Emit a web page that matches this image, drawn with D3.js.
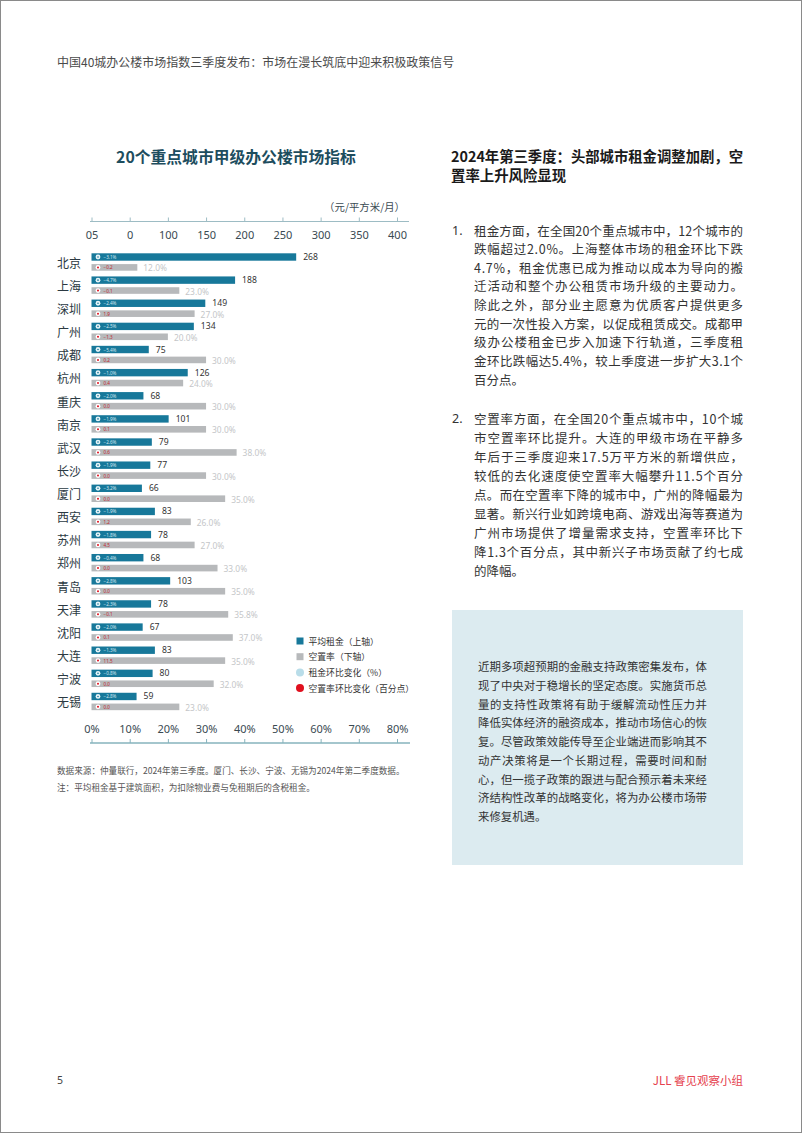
<!DOCTYPE html>
<html><head><meta charset="utf-8">
<script src="https://cdn.jsdelivr.net/npm/d3@7"></script>
<style>
html,body{margin:0;padding:0;background:#fff;}
svg{display:block;font-family:"Noto Sans CJK SC","Noto Sans",sans-serif;}
</style></head>
<body><svg id="c" width="802" height="1133"></svg>
<script>
const cities = ["北京","上海","深圳","广州","成都","杭州","重庆","南京","武汉","长沙","厦门","西安","苏州","郑州","青岛","天津","沈阳","大连","宁波","无锡"];
const rent = [268,188,149,134,75,126,68,101,79,77,66,83,78,68,103,78,67,83,80,59];
const vacancy = [12.0,23.0,27.0,20.0,30.0,24.0,30.0,30.0,38.0,30.0,35.0,26.0,27.0,33.0,35.0,35.8,37.0,35.0,32.0,23.0];
const rentChange = [-3.1,-4.7,-2.4,-2.5,-5.4,-1.0,-2.0,-1.9,-2.6,-1.9,-3.2,-1.9,-1.8,-0.4,-2.8,-2.3,-2.0,-1.3,-0.8,-2.8];
const vacancyChange = [-0.2,-0.1,1.9,-1.3,0.2,0.4,0.0,0.1,0.6,0.0,0.0,1.2,4.5,0.0,0.0,-0.1,0.1,11.5,0.0,0.0];
const topTickValues = [0,50,100,150,200,250,300,350,400];
const topTickLabels = ["05","0","100","150","200","250","300","350","400"];
const bottomTickValues = [0,10,20,30,40,50,60,70,80];
const legendItems = ["平均租金（上轴）","空置率（下轴）","租金环比变化（%）","空置率环比变化（百分点）"];

const headerText = "中国40城办公楼市场指数三季度发布：市场在漫长筑底中迎来积极政策信号";
const chartTitle = "20个重点城市甲级办公楼市场指标";
const unitLabel = "（元/平方米/月）";
const notes = ["数据来源：仲量联行，2024年第三季度。厦门、长沙、宁波、无锡为2024年第二季度数据。","注：平均租金基于建筑面积，为扣除物业费与免租期后的含税租金。"];
const headingLines = ["2024年第三季度：头部城市租金调整加剧，空","置率上升风险显现"];
const para1 = ["租金方面，在全国20个重点城市中，12个城市的","跌幅超过2.0%。上海整体市场的租金环比下跌","4.7%，租金优惠已成为推动以成本为导向的搬","迁活动和整个办公租赁市场升级的主要动力。","除此之外，部分业主愿意为优质客户提供更多","元的一次性投入方案，以促成租赁成交。成都甲","级办公楼租金已步入加速下行轨道，三季度租","金环比跌幅达5.4%，较上季度进一步扩大3.1个","百分点。"];
const para2 = ["空置率方面，在全国20个重点城市中，10个城","市空置率环比提升。大连的甲级市场在平静多","年后于三季度迎来17.5万平方米的新增供应，","较低的去化速度使空置率大幅攀升11.5个百分","点。而在空置率下降的城市中，广州的降幅最为","显著。新兴行业如跨境电商、游戏出海等赛道为","广州市场提供了增量需求支持，空置率环比下","降1.3个百分点，其中新兴子市场贡献了约七成","的降幅。"];
const boxLines = ["近期多项超预期的金融支持政策密集发布，体","现了中央对于稳增长的坚定态度。实施货币总","量的支持性政策将有助于缓解流动性压力并","降低实体经济的融资成本，推动市场信心的恢","复。尽管政策效能传导至企业端进而影响其不","动产决策将是一个长期过程，需要时间和耐","心，但一揽子政策的跟进与配合预示着未来经","济结构性改革的战略变化，将为办公楼市场带","来修复机遇。"];

const TEAL = "#17789a", GRAY = "#b7b9bb", RED = "#e0101e", LIGHT = "#b9dde9";
const svg = d3.select("#c");

// page border
svg.append("rect").attr("x",0.5).attr("y",0.5).attr("width",801).attr("height",1132)
  .attr("fill","none").attr("stroke","#8a8a8a");

// header
svg.append("text").attr("x",57).attr("y",67).attr("font-size",12.0).attr("fill","#4a4a4a").text(headerText);

// chart title
svg.append("text").attr("x",236).attr("y",163).attr("text-anchor","middle").attr("font-size",15.8)
  .attr("font-weight",700).attr("fill","#1d4d5e").text(chartTitle);

svg.append("text").attr("x",405).attr("y",211).attr("text-anchor","end").attr("font-size",10.4)
  .attr("fill","#3a4a52").text(unitLabel);

const x = d3.scaleLinear().domain([0,400]).range([91.5,397]);
const xv = d3.scaleLinear().domain([0,80]).range([91.5,397]);
const y = d3.scaleBand().domain(cities).range([253.3, 253.3 + 20*23.13]).paddingInner(0);

// top axis
const topAxisY = 221.5;
svg.append("line").attr("x1",90).attr("x2",409).attr("y1",topAxisY).attr("y2",topAxisY)
  .attr("stroke","#9dbcc4").attr("stroke-width",1.2);
const gTop = svg.append("g").attr("transform",`translate(0,${topAxisY})`)
  .call(d3.axisBottom(x).tickValues(topTickValues).tickSize(-4).tickSizeOuter(0).tickPadding(10)
    .tickFormat((d,i)=>topTickLabels[i]));
gTop.select(".domain").remove();
gTop.selectAll(".tick line").attr("stroke","#9dbcc4");
gTop.selectAll("text").attr("font-size",11).attr("fill","#3a4a52").attr("font-family","Noto Sans, sans-serif");

// bottom axis
const botAxisY = 743;
svg.append("line").attr("x1",90).attr("x2",410).attr("y1",botAxisY).attr("y2",botAxisY)
  .attr("stroke","#86b3bd").attr("stroke-width",1.5);
const gBot = svg.append("g").attr("transform",`translate(0,${botAxisY})`)
  .call(d3.axisTop(xv).tickValues(bottomTickValues).tickSize(4).tickSizeOuter(0).tickPadding(6)
    .tickFormat(d=>d+"%"));
gBot.select(".domain").remove();
gBot.selectAll(".tick line").attr("stroke","#86b3bd");
gBot.selectAll("text").attr("font-size",11).attr("fill","#3a4a52").attr("font-family","Noto Sans, sans-serif");

const rows = cities.map((c,i)=>({c, r:rent[i], v:vacancy[i], rc:rentChange[i], vc:vacancyChange[i]}));
const rowG = svg.append("g").selectAll("g").data(rows).join("g")
  .attr("transform",d=>`translate(0,${y(d.c)})`);

rowG.append("text").attr("x",57).attr("y",9).attr("dominant-baseline","central")
  .attr("font-size",12).attr("fill","#2b3942").text(d=>d.c);

const RH = 7.4, VY = 10.8, VH = 6.6;
rowG.append("rect").attr("x",x(0)).attr("y",0).attr("height",RH)
  .attr("width",d=>x(d.r)-x(0)).attr("fill",TEAL);
rowG.append("rect").attr("x",xv(0)).attr("y",VY).attr("height",VH)
  .attr("width",d=>xv(d.v)-xv(0)).attr("fill",GRAY);

// value labels
rowG.append("text").attr("x",d=>x(d.r)+7).attr("y",RH/2).attr("dominant-baseline","central")
  .attr("font-size",8.6).attr("fill","#333").attr("font-family","Noto Sans, sans-serif").text(d=>d.r);
rowG.append("text").attr("x",d=>xv(d.v)+6).attr("y",VY+VH/2+0.5).attr("dominant-baseline","central")
  .attr("font-size",8.4).attr("fill","#c4c6c8").attr("font-family","Noto Sans, sans-serif")
  .text(d=>d3.format(".1f")(d.v)+"%");

// change markers
rowG.append("circle").attr("cx",98).attr("cy",RH/2).attr("r",2.4).attr("fill","#e6f4f8");
rowG.append("circle").attr("cx",98).attr("cy",RH/2).attr("r",0.8).attr("fill",TEAL);
rowG.append("text").attr("x",103.5).attr("y",RH/2).attr("dominant-baseline","central")
  .attr("font-size",4.6).attr("fill","#cfe7ef").attr("font-family","Noto Sans, sans-serif")
  .text(d=>d3.format(".1f")(d.rc)+"%");
rowG.append("circle").attr("cx",98).attr("cy",VY+VH/2).attr("r",2.4).attr("fill","#ffffff");
rowG.append("circle").attr("cx",98).attr("cy",VY+VH/2).attr("r",1).attr("fill",RED);
rowG.append("text").attr("x",103.5).attr("y",VY+VH/2).attr("dominant-baseline","central")
  .attr("font-size",4.6).attr("fill","#c0262f").attr("font-family","Noto Sans, sans-serif")
  .text(d=>d3.format(".1f")(d.vc));

// legend
const lg = svg.append("g").selectAll("g").data(legendItems).join("g")
  .attr("transform",(d,i)=>`translate(300,${641 + i*15.7})`);
lg.each(function(d,i){
  const g = d3.select(this);
  if(i===0) g.append("rect").attr("x",-3.5).attr("y",-3.5).attr("width",7).attr("height",7).attr("fill",TEAL);
  if(i===1) g.append("rect").attr("x",-3.5).attr("y",-3.5).attr("width",7).attr("height",7).attr("fill",GRAY);
  if(i===2) g.append("circle").attr("r",4).attr("fill",LIGHT);
  if(i===3) g.append("circle").attr("r",4).attr("fill",RED);
});
lg.append("text").attr("x",8.5).attr("y",0).attr("dominant-baseline","central")
  .attr("font-size",8.8).attr("fill","#333").text(d=>d);

// notes
svg.selectAll("text.note").data(notes).join("text").attr("class","note")
  .attr("x",57).attr("y",(d,i)=>774 + i*17).attr("font-size",8.6).attr("fill","#555").text(d=>d);

// right column heading
svg.selectAll("text.hd").data(headingLines).join("text").attr("class","hd")
  .attr("x",451).attr("y",(d,i)=>162 + i*19).attr("font-size",14.4).attr("font-weight",700).attr("fill","#1a1a1a")
  .each(function(d,i){ if(i===0) d3.select(this).attr("textLength",292).attr("lengthAdjust","spacingAndGlyphs"); })
  .text(d=>d);

function para(lines, x0, yFirst, lh, width, fs, cls){
  svg.selectAll("text."+cls).data(lines).join("text").attr("class",cls)
    .attr("x",x0).attr("y",(d,i)=>yFirst + i*lh).attr("dominant-baseline","central")
    .attr("font-size",fs).attr("fill","#333")
    .each(function(d,i){ if(i<lines.length-1) d3.select(this).attr("textLength",width).attr("lengthAdjust","spacing"); })
    .text(d=>d);
}
svg.append("text").attr("x",452).attr("y",230).attr("dominant-baseline","central").attr("font-size",12.5).attr("fill","#333").attr("font-family","Noto Sans, sans-serif").text("1.");
para(para1, 474, 230, 18.65, 269, 12.5, "p1");
svg.append("text").attr("x",452).attr("y",418).attr("dominant-baseline","central").attr("font-size",12.5).attr("fill","#333").attr("font-family","Noto Sans, sans-serif").text("2.");
para(para2, 474, 418, 19, 269, 12.5, "p2");

// box
svg.append("rect").attr("x",452).attr("y",610).attr("width",291).attr("height",255).attr("fill","#dcebf0");
para(boxLines, 478, 666, 18.75, 229, 11.4, "bx");

// footer
svg.append("text").attr("x",57).attr("y",1084).attr("font-size",10.5).attr("fill","#444").attr("font-family","Noto Sans, sans-serif").text("5");
svg.append("text").attr("x",743).attr("y",1085).attr("text-anchor","end").attr("font-size",11.5).attr("fill","#e5414e").text("JLL 睿见观察小组");
</script></body></html>
